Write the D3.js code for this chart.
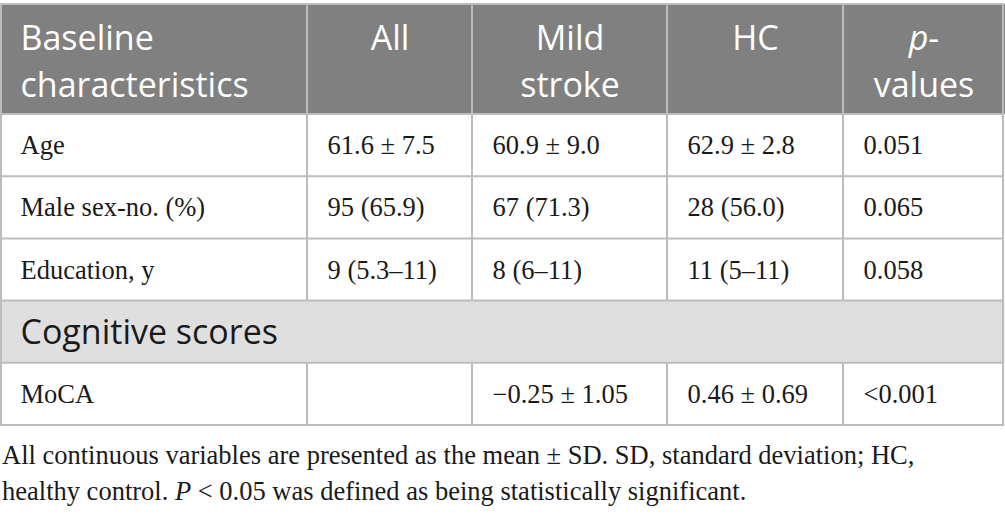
<!DOCTYPE html>
<html>
<head>
<meta charset="utf-8">
<script src="https://cdn.jsdelivr.net/npm/d3@7"></script>
<style>
  body { margin: 0; background: #fff; }
  svg { display: block; }
</style>
</head>
<body>
<div id="chart-area"></div>
<script>
// Table data
const headers = [["Baseline", "characteristics"], ["All"], ["Mild", "stroke"], ["HC"], ["p-", "values"]]
const rowLabels = ["Age", "Male sex-no. (%)", "Education, y"]
const allValues = ["61.6 ± 7.5", "95 (65.9)", "9 (5.3–11)"]
const strokeValues = ["60.9 ± 9.0", "67 (71.3)", "8 (6–11)"]
const hcValues = ["62.9 ± 2.8", "28 (56.0)", "11 (5–11)"]
const pValues = ["0.051", "0.065", "0.058"]
const sectionLabel = "Cognitive scores"
const mocaRow = ["MoCA", "", "−0.25 ± 1.05", "0.46 ± 0.69", "<0.001"]
const footnote = [
  [{ t: "All continuous variables are presented as the mean ± SD. SD, standard deviation; HC," }],
  [{ t: "healthy control. " }, { t: "P", i: true }, { t: " < 0.05 was defined as being statistically significant." }]
]

const WIDTH = 1005
const HEIGHT = 515
const TOP = 4
const HEADER_H = 110
const PAD = 20
const colWidths = [307, 165, 195, 176, 161]

const svg = d3.select("#chart-area").append("svg")
  .attr("width", WIDTH)
  .attr("height", HEIGHT)

// column edges
const edges = [0, ...d3.cumsum(colWidths)]
const colX = i => edges[i] + 0.5
const colW = i => colWidths[i]

// body rows (3 baseline rows + section band + MoCA row)
const bodyRows = [...rowLabels.map((d, i) => ({ type: "row", cells: [d, allValues[i], strokeValues[i], hcValues[i], pValues[i]] })),
  { type: "section", label: sectionLabel },
  { type: "row", cells: mocaRow }]
const y = d3.scaleBand()
  .domain(d3.range(bodyRows.length))
  .range([TOP + HEADER_H, TOP + HEADER_H + 311])
  .padding(0)

const LINE = "#bcbcbc"
const HEAD_FILL = "#7f807f"
const BAND_FILL = "#e0dfe0"
const SANS = "'Open Sans', 'Noto Sans', sans-serif"
const SERIF = "'Liberation Serif', 'DejaVu Serif', serif"

// Header
svg.append("rect")
  .attr("x", 0.5).attr("y", TOP)
  .attr("width", edges[edges.length - 1] + 0.5).attr("height", HEADER_H)
  .attr("fill", HEAD_FILL)

headers.forEach((lines, i) => {
  const tx = i === 0 ? colX(0) + PAD : colX(i) + colW(i) / 2
  lines.forEach((ln, j) => {
    const t = svg.append("text")
      .attr("fill", "#fff")
      .attr("font-family", SANS)
      .attr("font-size", "34px")
      .attr("text-anchor", i === 0 ? "start" : "middle")
      .attr("x", tx)
      .attr("y", TOP + 46 + j * 47)
    if (ln === "p-") {
      t.append("tspan").attr("font-style", "italic").text("p")
      t.append("tspan").text("-")
    } else {
      t.text(ln)
    }
  })
})

// Body
bodyRows.forEach((row, r) => {
  const y0 = y(r)
  const h = y.bandwidth()
  if (row.type === "section") {
    svg.append("rect")
      .attr("x", 0.5).attr("y", y0)
      .attr("width", edges[edges.length - 1]).attr("height", h)
      .attr("fill", BAND_FILL)
    svg.append("text")
      .attr("x", colX(0) + PAD)
      .attr("y", y0 + h / 2)
      .attr("dy", "0.36em")
      .attr("font-family", SANS)
      .attr("font-size", "34px")
      .attr("fill", "#1a1a1a")
      .text(row.label)
  } else {
    row.cells.forEach((c, i) => {
      svg.append("text")
        .attr("x", colX(i) + PAD)
        .attr("y", y0 + h / 2)
        .attr("dy", "0.34em")
        .attr("font-family", SERIF)
        .attr("font-size", "26.5px")
        .attr("fill", "#1a1a1a")
        .text(c)
    })
  }
})

// Grid lines
const bottom = y.range()[1]
const lineG = svg.append("g")
  .attr("stroke", LINE)
  .attr("stroke-width", 2)
  .attr("fill", "none")

// horizontal lines
const hLines = [TOP, ...y.domain().map(d => y(d)), bottom]
lineG.selectAll("line.h")
  .data(hLines)
  .join("line")
  .attr("class", "h")
  .attr("x1", 0).attr("x2", edges[edges.length - 1])
  .attr("y1", d => d).attr("y2", d => d)

// vertical lines (section band spans all columns)
edges.forEach((e, i) => {
  const xx = i === edges.length - 1 ? e - 1 : (i === 0 ? 1 : e)
  const outer = i === 0 || i === edges.length - 1
  const segs = outer ? [[TOP, bottom]] : [[TOP, y(3)], [y(4), bottom]]
  segs.forEach(s => {
    lineG.append("line")
      .attr("x1", xx).attr("x2", xx)
      .attr("y1", s[0]).attr("y2", s[1])
  })
})

// Footnote
footnote.forEach((parts, j) => {
  const t = svg.append("text")
    .attr("x", 2)
    .attr("y", 464 + j * 36)
    .attr("font-family", SERIF)
    .attr("font-size", "26.5px")
    .attr("fill", "#1a1a1a")
  parts.forEach(p => {
    t.append("tspan")
      .attr("font-style", p.i ? "italic" : null)
      .text(p.t)
  })
})
</script>
</body>
</html>
